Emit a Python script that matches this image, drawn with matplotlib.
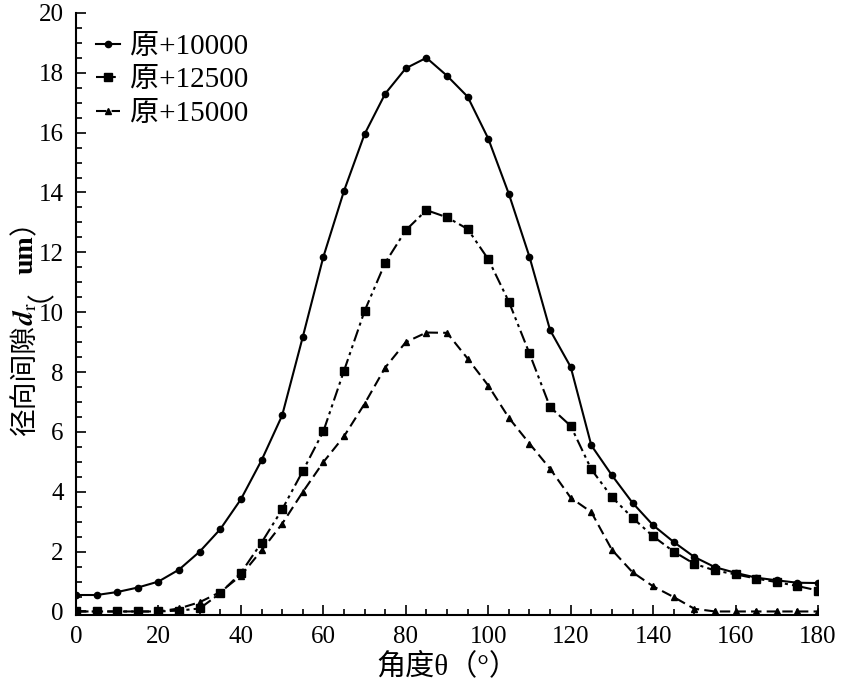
import matplotlib
matplotlib.use('Agg')
import matplotlib.pyplot as plt
from matplotlib.ticker import MultipleLocator

plt.rcParams['font.family'] = ['Liberation Serif', 'Noto Sans CJK SC']
plt.rcParams['mathtext.fontset'] = 'stix'

# angle (deg) and radial clearance (um)
angle = list(range(0, 181, 5))
d_10000 = [0.55, 0.55, 0.65, 0.8, 1.0, 1.4, 2.0, 2.75, 3.75, 5.05, 6.55, 9.17, 11.85, 14.05,
           15.95, 17.3, 18.15, 18.5, 17.9, 17.2, 15.8, 13.95, 11.85, 9.4, 8.17, 5.55, 4.55,
           3.63, 2.88, 2.32, 1.82, 1.48, 1.29, 1.13, 1.04, 0.96, 0.95]
d_12500 = [0.0, 0.0, 0.0, 0.0, 0.0, 0.03, 0.1, 0.61, 1.29, 2.3, 3.41, 4.69, 6.02, 8.04,
           10.04, 11.65, 12.74, 13.41, 13.17, 12.78, 11.77, 10.35, 8.62, 6.83, 6.2, 4.75,
           3.82, 3.13, 2.51, 2.0, 1.59, 1.37, 1.24, 1.1, 0.98, 0.85, 0.7]
d_15000 = [0.0, 0.0, 0.0, 0.0, 0.0, 0.1, 0.31, 0.65, 1.2, 2.04, 2.93, 3.99, 4.99, 5.85,
           6.94, 8.15, 9.0, 9.32, 9.31, 8.45, 7.55, 6.47, 5.61, 4.77, 3.8, 3.32, 2.06,
           1.31, 0.84, 0.48, 0.09, 0.0, 0.0, 0.0, 0.0, 0.0, 0.0]
labels = ['原+10000', '原+12500', '原+15000']
ylabel_parts = ['径向间隙', r'$\boldsymbol{d}_\mathrm{r}$', '（', 'um', '）']

fig = plt.figure(figsize=(8.41, 6.8), dpi=100)
ax = fig.add_axes([0.0904, 0.0955, 0.8823, 0.8855])

ax.plot(angle, d_10000, color='black', linestyle='-', linewidth=1.5,
        marker='o', markersize=4.5, label=labels[0])
ax.plot(angle, d_12500, color='black', linestyle=(0, (6, 2, 1.5, 2, 1.5, 2)), linewidth=1.5,
        marker='s', markersize=6, label=labels[1])
ax.plot(angle, d_15000, color='black', linestyle=(0, (5, 2.5)), linewidth=1.5,
        marker='^', markersize=4.5, label=labels[2])

ax.set_xlim(0, 180)
ax.set_ylim(-0.12, 20)
ax.xaxis.set_major_locator(MultipleLocator(20))
ax.xaxis.set_minor_locator(MultipleLocator(5))
ax.yaxis.set_major_locator(MultipleLocator(2))
ax.yaxis.set_minor_locator(MultipleLocator(0.5))
ax.tick_params(which='both', direction='in', labelsize=18, width=1.2)
ax.tick_params(which='major', length=7)
ax.tick_params(which='minor', length=4)
ax.tick_params(axis='x', pad=8)
ax.tick_params(axis='y', pad=9)
ax.spines['top'].set_visible(False)
ax.spines['right'].set_visible(False)
ax.spines['left'].set_linewidth(1.5)
ax.spines['bottom'].set_linewidth(1.5)

ax.set_xlabel('角度θ（°）', fontsize=21, labelpad=3)

ax.legend(loc='upper left', frameon=False, fontsize=21, handlelength=0.8,
          handletextpad=0.35, borderaxespad=0.3, labelspacing=0.25,
          bbox_to_anchor=(0.0, 1.0))

# y label assembled from pieces so Chinese and mathtext can mix
fig.canvas.draw()
renderer = fig.canvas.get_renderer()
W, H = fig.bbox.width, fig.bbox.height
pieces = []
for part in ylabel_parts:
    weight = 'bold' if part == 'um' else 'normal'
    t = fig.text(0, 0, part, rotation=90, fontsize=20, weight=weight,
                 ha='left', va='baseline', rotation_mode='anchor')
    pieces.append(t)
heights = [p.get_window_extent(renderer).height for p in pieces]
total = sum(heights)
y_px = H - 322 - total / 2
for p, h in zip(pieces, heights):
    p.set_position((33 / W, y_px / H))
    y_px += h

fig.savefig('out.png', dpi=100)
